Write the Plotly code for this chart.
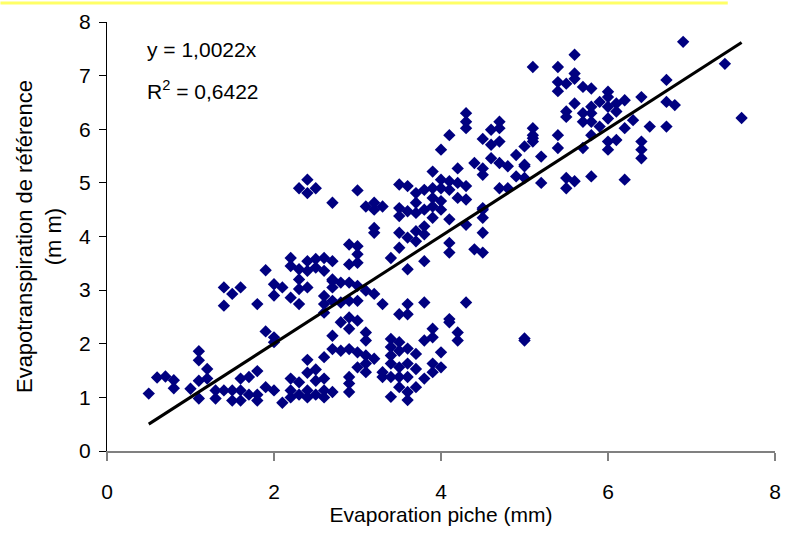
import plotly.graph_objects as go

# Evaporation piche (mm) vs Evapotranspiration de référence (mm)
pts = [
 (0.5,1.07),(0.6,1.37),(0.7,1.39),(0.8,1.32),(0.8,1.17),(1.0,1.16),(1.1,1.86),(1.1,1.69),(1.1,0.98),(1.2,1.53),
 (1.2,1.35),(1.1,1.31),(1.3,0.98),(1.3,1.13),(1.4,1.13),(1.5,1.13),(1.5,0.94),(1.6,1.35),(1.6,1.13),(1.6,0.94),
 (1.7,1.38),(1.7,1.05),(1.8,1.49),(1.8,1.05),(1.8,0.94),(1.9,1.19),(2.0,1.13),(2.1,0.90),(2.2,1.35),(2.2,1.13),
 (2.2,1.0),(2.3,1.28),(2.3,1.05),(2.4,1.70),(2.4,1.46),(2.4,1.13),(2.4,1.0),(2.5,1.52),(2.5,1.31),(2.5,1.05),
 (2.6,1.35),(2.6,1.13),(2.6,1.0),(2.7,1.10),(2.6,1.75),
 (1.9,2.23),(2.0,2.12),(2.0,2.03),(1.4,3.05),(1.5,2.93),(1.6,3.05),(1.4,2.71),(1.8,2.74),(1.9,3.37),(2.0,3.11),
 (2.0,2.90),(2.1,3.05),(2.2,3.60),(2.2,3.45),(2.2,2.86),(2.3,3.39),(2.3,3.20),(2.3,3.02),(2.3,2.74),(2.4,3.54),
 (2.4,3.36),(2.4,3.05),(2.5,3.58),(2.5,3.42),(2.6,3.60),(2.6,3.36),(2.6,2.89),(2.6,2.74),(2.7,3.54),(2.7,3.20),
 (2.7,3.05),(2.7,2.15),(2.7,1.90),(2.6,2.58),
 (2.3,4.90),(2.4,5.06),(2.4,4.81),(2.5,4.90),(2.7,4.63),
 (2.9,3.85),(3.0,3.82),(3.0,3.67),(2.9,3.48),(3.0,3.51),(2.7,3.17),(2.8,3.14),(2.9,3.14),(3.0,3.08),
 (2.7,2.80),(2.8,2.77),(2.9,2.80),(3.0,2.80),(3.1,2.99),(3.2,2.93),(3.3,2.74),
 (3.4,3.60),(3.5,3.79),(3.6,3.39),(3.8,3.54),(3.5,2.55),(3.6,2.74),(3.6,2.55),(3.8,2.77),
 (4.1,3.88),(4.1,3.70),(4.4,3.76),(4.5,3.70),(4.3,2.77),(4.1,2.46),(4.1,2.40),(3.9,2.28),(3.8,2.06),(3.9,2.12),
 (4.2,2.21),(4.2,2.06),(5.0,2.06),(5.0,2.10),
 (2.8,2.40),(2.9,2.49),(2.9,2.28),(3.0,2.43),(3.1,2.21),(3.1,2.06),
 (2.8,1.87),(2.9,1.90),(3.0,1.84),(3.1,1.78),(3.2,1.72),(3.0,1.56),(3.1,1.63),(3.1,1.47),
 (2.9,1.38),(2.9,1.26),(2.9,1.10),(3.3,1.47),(3.3,1.38),
 (3.4,2.09),(3.4,1.94),(3.4,1.78),(3.4,1.63),(3.4,1.38),(3.4,1.01),
 (3.5,2.03),(3.5,1.87),(3.5,1.56),(3.5,1.38),(3.5,1.19),
 (3.6,1.91),(3.6,1.63),(3.6,1.38),(3.6,1.10),(3.6,0.95),
 (3.7,1.81),(3.7,1.53),(3.7,1.19),(3.8,1.35),(3.9,1.63),(3.9,1.47),(4.0,1.84),(4.0,1.56),
 (3.0,4.86),(3.1,4.56),(3.2,4.63),(3.2,4.50),(3.3,4.56),(3.2,4.16),(3.2,4.07),
 (3.5,4.97),(3.6,4.94),(3.5,4.53),(3.5,4.38),(3.6,4.47),(3.7,4.44),(3.7,4.63),
 (3.7,4.81),(3.8,4.87),(3.8,4.50),(3.9,4.90),(3.9,4.72),(3.9,4.56),
 (3.5,4.07),(3.6,3.98),(3.7,4.10),(3.7,3.91),(3.8,4.04),(3.8,4.19),
 (3.9,5.21),(4.0,5.06),(4.0,4.90),(4.1,5.03),(4.1,4.87),(4.2,5.0),(4.2,4.72),(4.3,4.94),(4.3,4.69),
 (4.0,5.62),(4.1,5.89),(4.2,5.27),(4.0,4.66),(4.0,4.50),(4.1,4.32),(3.9,4.35),
 (4.3,6.30),(4.3,6.14),(4.3,6.02),(4.4,5.37),(4.5,5.27),(4.5,5.15),
 (4.5,4.50),(4.5,4.35),(4.5,4.07),(4.3,4.22),(4.5,4.53),
 (4.5,5.82),(4.6,5.99),(4.6,5.71),(4.7,6.14),(4.7,6.02),(4.7,5.77),(4.6,5.46),(4.7,5.37),(4.8,5.31),(4.9,5.52),
 (5.0,5.68),(5.0,5.34),(4.9,5.12),(4.8,4.90),(4.7,4.90),(5.1,6.02),(5.1,5.83),
 (6.9,7.63),(7.4,7.22),(7.6,6.21),(5.6,7.39),(5.1,7.16),(5.4,7.16),(5.6,7.04),(5.6,6.94),
 (5.4,6.88),(5.5,6.85),(5.4,6.71),(5.7,6.79),(5.8,6.76),
 (6.0,6.70),(6.0,6.60),(5.9,6.51),(6.1,6.48),(6.2,6.54),(6.0,6.42),(6.1,6.33),(6.0,6.20),(5.9,6.05),(5.8,6.14),
 (5.7,6.30),(5.7,6.14),(5.6,6.48),(5.5,6.33),(5.5,6.23),(5.8,6.42),(5.8,6.30),
 (6.4,6.60),(6.7,6.92),(6.7,6.51),(6.8,6.45),(6.7,6.05),(6.5,6.05),(6.3,6.17),(6.2,6.02),
 (6.1,5.80),(6.0,5.77),(6.0,5.62),(6.4,5.77),(6.4,5.62),(6.4,5.46),(6.2,5.06),(5.8,5.12),
 (5.5,5.09),(5.6,5.03),(5.5,4.90),(5.2,5.00),(5.4,5.89),(5.4,5.65),(5.7,5.65),(5.8,5.89),
 (5.1,5.89),(5.1,5.77),(5.2,5.49),(5.0,5.31),(5.0,5.09),
]
evap_piche = [p[0] for p in pts]
eto_ref = [p[1] for p in pts]

slope = 1.0022
r2 = 0.6422
trend_x = [0.5, 7.6]
trend_y = [slope * v for v in trend_x]

FONT = "Liberation Sans, Arial, sans-serif"

fig = go.Figure()
fig.add_trace(go.Scatter(
    x=evap_piche, y=eto_ref, mode="markers",
    marker=dict(symbol="diamond", size=9.5, color="#000080", line=dict(width=0)),
    showlegend=False, hoverinfo="x+y"))
fig.add_trace(go.Scatter(
    x=trend_x, y=trend_y, mode="lines",
    line=dict(color="black", width=3), showlegend=False))

fig.add_annotation(x=0.45, y=7.48, xref="x", yref="y", xanchor="left", yanchor="middle",
                   text="y = 1,0022x", showarrow=False, font=dict(family=FONT, size=21, color="black"))
fig.add_annotation(x=0.45, y=6.73, xref="x", yref="y", xanchor="left", yanchor="middle",
                   text="R<sup>2</sup> = 0,6422", showarrow=False, font=dict(family=FONT, size=21, color="black"))

# yellow rule at the top of the page
fig.add_shape(type="line", xref="paper", yref="paper",
              x0=-107.4/673.2, x1=(733-107.4)/673.2, y0=1+19/431, y1=1+19/431,
              line=dict(color="#FFFF66", width=3))

fig.update_layout(
    width=791, height=533,
    margin=dict(l=107.4, r=10.4, t=20, b=82),
    paper_bgcolor="white", plot_bgcolor="white",
    font=dict(family=FONT, size=21, color="black"),
    xaxis=dict(range=[0, 8], tickvals=[0, 2, 4, 6, 8], showgrid=False, zeroline=False,
               showline=True, linecolor="#808080", linewidth=1.5,
               ticks="outside", ticklen=8, tickcolor="#808080", tickwidth=1.5,
               ticklabelstandoff=13,
               tickfont=dict(size=21),
               title=dict(text="Evaporation piche (mm)", standoff=3, font=dict(size=21))),
    yaxis=dict(range=[0, 8], tickvals=list(range(0, 9)), showgrid=False, zeroline=False,
               showline=True, linecolor="black", linewidth=1,
               ticks="outside", ticklen=7, tickcolor="black", tickwidth=1,
               ticklabelstandoff=4,
               tickfont=dict(size=21),
               title=dict(text="Evapotranspiration de référence<br>(m m)", standoff=11,
                          font=dict(size=22))),
)

fig.write_html("out.html")
